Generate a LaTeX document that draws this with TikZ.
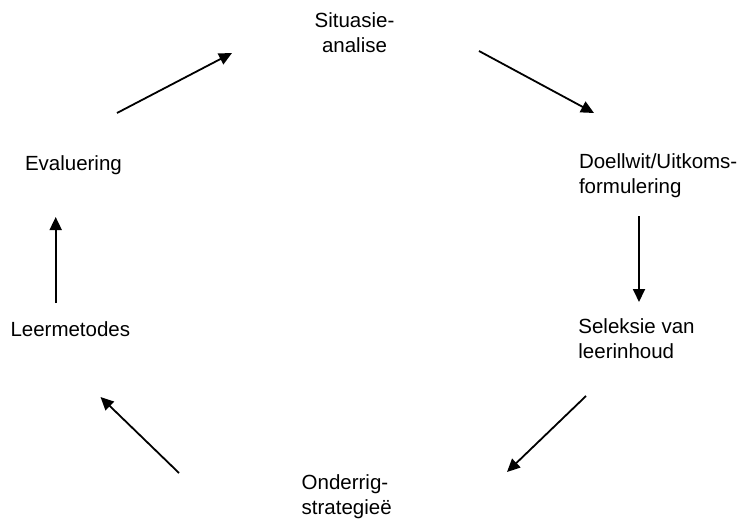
\documentclass[tikz,border=0pt]{standalone}
\usepackage{fontspec}
\setmainfont{Liberation Sans}
\usetikzlibrary{arrows.meta}
\begin{document}
\begin{tikzpicture}[x=1pt,y=-1pt,
  lbl/.style={inner sep=0pt,outer sep=0pt,font=\fontsize{20.5pt}{24.8pt}\selectfont},
  flow/.style={line width=1.8pt,-{Triangle[length=13pt,width=12pt]}}]
\useasboundingbox (0,0) rectangle (747,519);

% stage labels (multi-line nodes are anchored on the baseline of their last line)
\node[lbl,align=center,anchor=base] (sit) at (354.5,52.7) {Situasie-\\analise};
\node[lbl,align=left,anchor=base west] (doel) at (579,193.3) {Doellwit/Uitkoms-\\formulering};
\node[lbl,align=left,anchor=base west] (sel) at (578.4,358.3) {Seleksie van\\leerinhoud};
\node[lbl,align=left,anchor=base west] (ond) at (301.7,514.3) {Onderrig-\\strategieë};
\node[lbl,anchor=base west] (leer) at (10.5,336) {Leermetodes};
\node[lbl,anchor=base west] (eval) at (25,170) {Evaluering};

% cycle connectors
\coordinate (a1s) at (117,113);  \coordinate (a1e) at (232,53);
\coordinate (a2s) at (479,51);   \coordinate (a2e) at (594,113);
\coordinate (a3s) at (639,216);  \coordinate (a3e) at (639,302);
\coordinate (a4s) at (586,396);  \coordinate (a4e) at (507,472);
\coordinate (a5s) at (179,473);  \coordinate (a5e) at (100.5,397);
\coordinate (a6s) at (55.7,303); \coordinate (a6e) at (55.7,217);

\draw[flow] (a1s) -- (a1e);
\draw[flow] (a2s) -- (a2e);
\draw[flow] (a3s) -- (a3e);
\draw[flow] (a4s) -- (a4e);
\draw[flow] (a5s) -- (a5e);
\draw[flow] (a6s) -- (a6e);
\end{tikzpicture}
\end{document}
